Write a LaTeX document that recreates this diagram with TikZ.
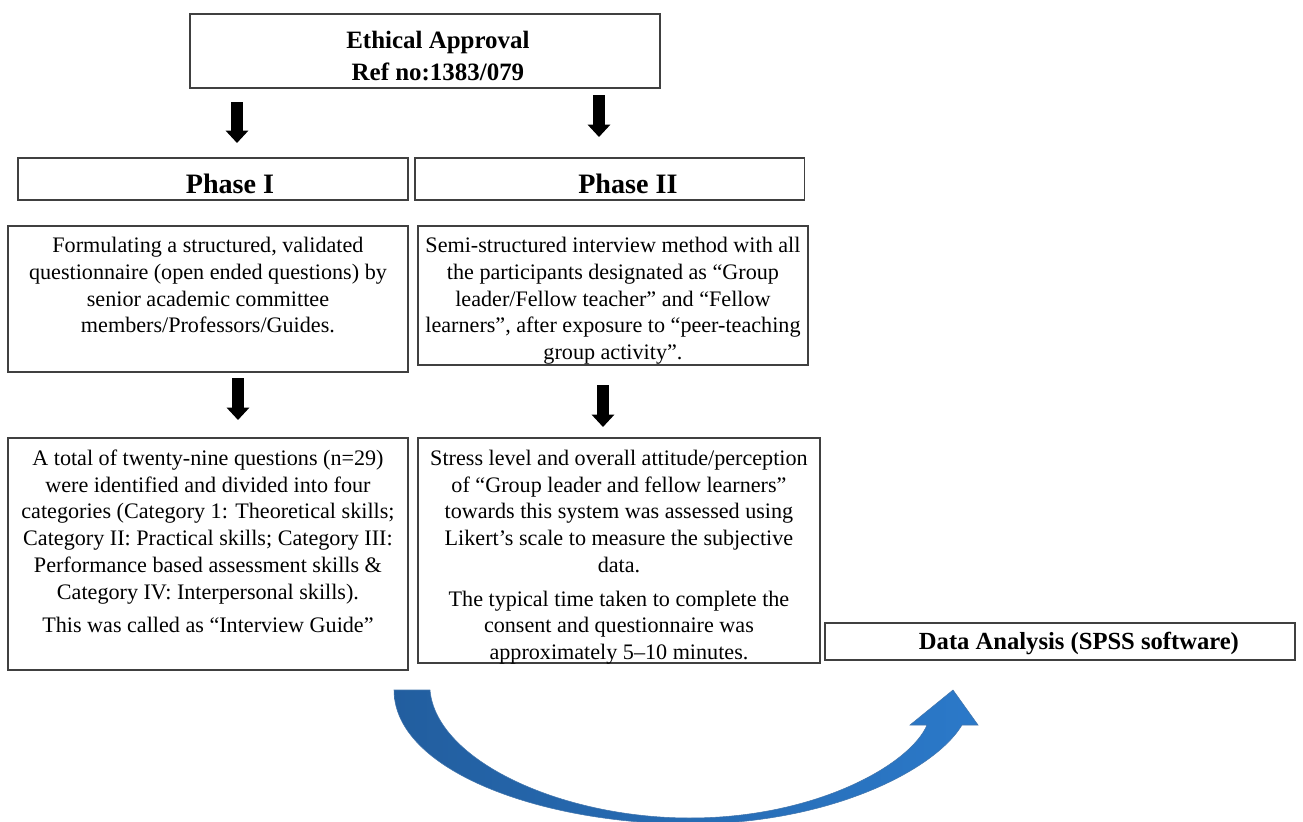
\documentclass[tikz,border=0pt]{standalone}
\usepackage{fontspec}
\setmainfont{Liberation Serif}
\usetikzlibrary{arrows.meta,positioning}

\definecolor{boxline}{HTML}{404040}
\definecolor{curveleft}{HTML}{225E9F}
\definecolor{curveright}{HTML}{2B79C9}

% top-aligned, centred text inside a fixed box
\newcommand{\boxtext}[4][4.5pt]{\parbox[c][#2][t]{#3}{\centering\vspace*{#1}\strut #4}}

\begin{document}
\begin{tikzpicture}[
    x=0.02cm, y=-0.02cm,
    every node/.style={inner sep=0pt, outer sep=0pt},
    box/.style={draw=boxline, line width=0.7pt, anchor=north west, font=\fontsize{12.6}{15.2}\selectfont},
    headbox/.style={box, font=\bfseries\fontsize{14.2}{18.2}\selectfont},
    phasebox/.style={box, font=\bfseries\fontsize{16}{19}\selectfont, minimum width=7.8cm, minimum height=0.84cm, text height=16.3pt, text depth=0pt},
    down/.style={-{Triangle[width=12.5pt,length=7pt]}, line width=6.5pt}
]
\useasboundingbox (0,0) rectangle (1303,822);

\node[headbox] (ethic) at (190,14) {\boxtext[7pt]{1.48cm}{9.4cm}{\hspace*{0.52cm}Ethical Approval\\\hspace*{0.52cm}Ref no:1383/079}};

\node[phasebox] (phase1) at (18,158) {\hspace*{0.68cm}Phase I};
\node[phasebox, right=0.14cm of phase1] (phase2) {\hspace*{0.72cm}Phase II};

\node[box] (design) at (8,226) {\boxtext{2.92cm}{8cm}{Formulating a structured, validated\\questionnaire (open ended questions) by\\senior academic committee\\members/Professors/Guides.}};
\node[box] (interview) at (418,226) {\boxtext{2.78cm}{7.8cm}{Semi-structured interview method with all\\the participants designated as “Group\\leader/Fellow teacher” and “Fellow\\learners”, after exposure to “peer-teaching\\group activity”.}};

\node[box] (items) at (8,438) {\boxtext[5pt]{4.64cm}{8cm}{A total of twenty-nine questions (n=29)\\were identified and divided into four\\categories (Category 1: Theoretical skills;\\Category II: Practical skills; Category III:\\Performance based assessment skills \&\\Category IV: Interpersonal skills).\\[4pt]This was called as “Interview Guide”}};
\node[box] (likert) at (418,438) {\boxtext[5pt]{4.5cm}{8.04cm}{Stress level and overall attitude/perception\\of “Group leader and fellow learners”\\towards this system was assessed using\\Likert’s scale to measure the subjective\\data.\\[4pt]The typical time taken to complete the\\consent and questionnaire was\\approximately 5–10 minutes.}};

\node[box, font=\bfseries\fontsize{14}{17}\selectfont, minimum width=9.4cm, minimum height=0.74cm, text height=9.3pt, text depth=0pt] (spss) at (825,623) {\hspace*{0.76cm}Data Analysis (SPSS software)};

% block arrows
\coordinate (a1top) at (237,102);
\coordinate (a1tip) at (237,143);
\coordinate (a2top) at (599,95);
\coordinate (a2tip) at (599,137);
\coordinate (a3top) at (238,378);
\coordinate (a3tip) at (238,420);
\coordinate (a4top) at (603,385);
\coordinate (a4tip) at (603,427);
\draw[down] (a1top) -- (a1tip);
\draw[down] (a2top) -- (a2tip);
\draw[down] (a3top) -- (a3tip);
\draw[down] (a4top) -- (a4tip);

% curved arrow to the analysis
\shade[left color=curveleft, right color=curveright, draw=curveleft!85, line width=0.3pt]
  (394,690) .. controls (394,770) and (540,824) .. (690,824)
  .. controls (830,824) and (935,770) .. (962,725)
  -- (978,725) -- (953,690) -- (910,725) -- (927,725)
  .. controls (910,765) and (815,818) .. (690,818)
  .. controls (560,818) and (436,760) .. (430,690) -- cycle;
\end{tikzpicture}
\end{document}
